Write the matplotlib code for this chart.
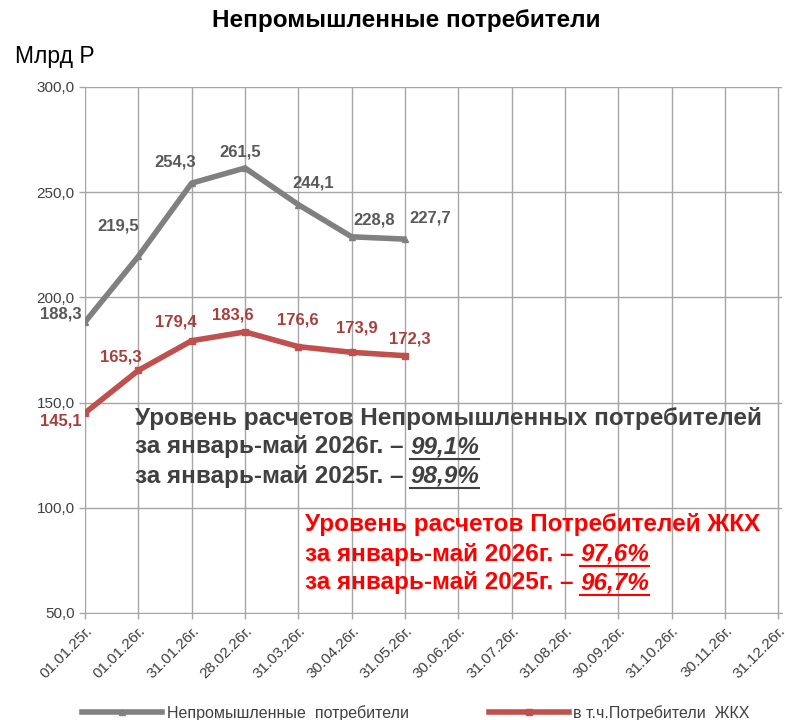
import matplotlib
matplotlib.use('Agg')
import matplotlib.pyplot as plt
from matplotlib.lines import Line2D
from matplotlib.ticker import FuncFormatter, MultipleLocator

plt.rcParams['font.family'] = ['Liberation Sans', 'DejaVu Sans']

# данные
dates = ['01.01.25г.', '01.01.26г.', '31.01.26г.', '28.02.26г.', '31.03.26г.',
         '30.04.26г.', '31.05.26г.', '30.06.26г.', '31.07.26г.', '31.08.26г.',
         '30.09.26г.', '31.10.26г.', '30.11.26г.', '31.12.26г.']
nonind = [188.3, 219.5, 254.3, 261.5, 244.1, 228.8, 227.7]
zhkh = [145.1, 165.3, 179.4, 183.6, 176.6, 173.9, 172.3]

# смещения подписей (пиксели)
nonind_off = [(-24, 8), (-20, 30), (-16, 21), (-5, 16), (15, 22), (23, 17), (25, 21)]
zhkh_off = [(-24, -8), (-18, 13), (-16, 19), (-12, 17), (-1, 27), (5, 24), (5, 17)]

GRAY = '#808080'
RED = '#C0504D'

fig = plt.figure(figsize=(7.85, 7.2), dpi=100)
ax = fig.add_axes([85 / 785, 1 - 613 / 720, 697 / 785, 526 / 720])

x = list(range(len(dates)))
ax.plot(x[:len(nonind)], nonind, color=GRAY, lw=4, marker='^', ms=4, zorder=3,
        solid_capstyle='butt')
ax.plot(x[:len(zhkh)], zhkh, color=RED, lw=4, marker='s', ms=4, zorder=3,
        solid_capstyle='butt')

for i, v in enumerate(nonind):
    ax.annotate(f'{v:.1f}'.replace('.', ','), (i, v), xytext=nonind_off[i],
                textcoords='offset pixels', ha='center', va='center',
                fontsize=12, fontweight='bold', color='#595959', zorder=4)
for i, v in enumerate(zhkh):
    ax.annotate(f'{v:.1f}'.replace('.', ','), (i, v), xytext=zhkh_off[i],
                textcoords='offset pixels', ha='center', va='center',
                fontsize=12, fontweight='bold', color='#A5403C', zorder=4)

ax.set_xlim(0, 13.07)
ax.set_ylim(50, 300)
ax.yaxis.set_major_locator(MultipleLocator(50))
ax.yaxis.set_major_formatter(FuncFormatter(lambda v, p: f'{v:.1f}'.replace('.', ',')))
ax.set_xticks(x)
ax.set_xticklabels(dates, rotation=45, ha='right', va='top', rotation_mode='anchor')
ax.tick_params(axis='both', labelsize=11, labelcolor='#404040', color='#A6A6A6',
               length=4, width=1)
ax.grid(True, color='#A6A6A6', lw=1)
ax.set_axisbelow(True)
for s in ['top', 'right']:
    ax.spines[s].set_visible(False)
for s in ['left', 'bottom']:
    ax.spines[s].set_color('#A6A6A6')

fig.text(0.518, 0.972, 'Непромышленные потребители', ha='center', va='center',
         fontsize=17.5, fontweight='bold', color='black')
fig.text(15 / 785, 1 - 57 / 720, 'Млрд Р', ha='left', va='center', fontsize=16.5,
         color='black')

# блоки с уровнем расчетов
blocks = [
    (135, 418, '#404040', 'Уровень расчетов Непромышленных потребителей',
     [('за январь-май 2026г. – ', '99,1%'), ('за январь-май 2025г. – ', '98,9%')]),
    (305, 525, '#FF0000', 'Уровень расчетов Потребителей ЖКХ',
     [('за январь-май 2026г. – ', '97,6%'), ('за январь-май 2025г. – ', '96,7%')]),
]
fig.canvas.draw()
rend = fig.canvas.get_renderer()
fs = 17.5
for bx, by, col, head, rows in blocks:
    fig.text(bx / 785, 1 - by / 720, head, ha='left', va='center', fontsize=fs,
             fontweight='bold', color=col)
    for k, (pre, pct) in enumerate(rows):
        yy = by + 29 * (k + 1)
        t = fig.text(bx / 785, 1 - yy / 720, pre, ha='left', va='center',
                     fontsize=fs, fontweight='bold', color=col)
        bb = t.get_window_extent(rend)
        t2 = fig.text(bb.x1 / 785, 1 - yy / 720, pct, ha='left', va='center',
                      fontsize=fs, fontweight='bold', style='italic', color=col)
        b2 = t2.get_window_extent(rend)
        uy = b2.y0 / 720 - 0.001
        fig.add_artist(Line2D([b2.x0 / 785, b2.x1 / 785], [uy, uy], color=col,
                              lw=1.5, transform=fig.transFigure))

handles = [Line2D([], [], color=GRAY, lw=4, marker='^', ms=4),
           Line2D([], [], color=RED, lw=4, marker='s', ms=4)]
fig.legend(handles, ['Непромышленные  потребители', 'в т.ч.Потребители  ЖКХ'],
           loc='center', bbox_to_anchor=(0.53, 0.01), ncol=2, frameon=False,
           fontsize=11.5, handlelength=5, columnspacing=5, handletextpad=0.3,
           labelcolor='#404040')

fig.savefig('out.png', dpi=100)
